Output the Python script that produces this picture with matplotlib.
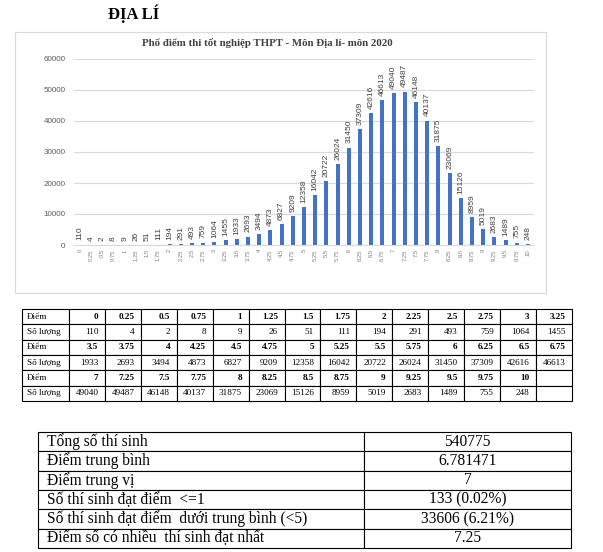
import matplotlib.pyplot as plt
from matplotlib.patches import Rectangle

# score distribution, geography 2020
scores = [0, 0.25, 0.5, 0.75, 1, 1.25, 1.5, 1.75, 2, 2.25, 2.5, 2.75, 3, 3.25,
          3.5, 3.75, 4, 4.25, 4.5, 4.75, 5, 5.25, 5.5, 5.75, 6, 6.25, 6.5, 6.75,
          7, 7.25, 7.5, 7.75, 8, 8.25, 8.5, 8.75, 9, 9.25, 9.5, 9.75, 10]
counts = [110, 4, 2, 8, 9, 26, 51, 111, 194, 291, 493, 759, 1064, 1455,
          1933, 2693, 3494, 4873, 6827, 9209, 12358, 16042, 20722, 26024, 31450, 37309, 42616, 46613,
          49040, 49487, 46148, 40137, 31875, 23069, 15126, 8959, 5019, 2683, 1489, 755, 248]

stat_labels = ['Tổng số thí sinh', 'Điểm trung bình', 'Điểm trung vị',
               'Số thí sinh đạt điểm  <=1', 'Số thí sinh đạt điểm  dưới trung bình (<5)',
               'Điểm số có nhiều  thí sinh đạt nhất']
stat_values = ['540775', '6.781471', '7', '133 (0.02%)', '33606 (6.21%)', '7.25']

page_title = 'ĐỊA LÍ'
chart_title = 'Phổ điểm thi tốt nghiệp THPT - Môn Địa lí- môn 2020'

W, H = 603, 552
SERIF = 'Liberation Serif'
SANS = 'Liberation Sans'


def main():
    fig = plt.figure(figsize=(W / 100, H / 100), dpi=100)

    # overlay in pixel coords for the page layout
    ov = fig.add_axes([0, 0, 1, 1], zorder=0)
    ov.set_xlim(0, W)
    ov.set_ylim(H, 0)
    ov.axis('off')

    ov.text(134, 14, page_title, ha='center', va='center', fontsize=12,
            fontweight='bold', family=SERIF)
    ov.add_patch(Rectangle((15, 32), 531, 261, fill=False, ec='#d9d9d9', lw=0.8))
    ov.text(267, 43, chart_title, ha='center', va='center', fontsize=7.8,
            fontweight='bold', family=SERIF, color='#404040')

    # bar chart
    ax = fig.add_axes([74.4 / W, 1 - 245 / H, 459.2 / W, 186 / H], zorder=1)
    ax.patch.set_alpha(0)
    bars = ax.bar(scores, counts, width=0.09, color='#4472C4')
    ax.set_xlim(-0.125, 10.125)
    ax.set_ylim(0, 60000)
    ax.set_yticks(range(0, 60001, 10000))
    ax.grid(axis='y', color='#d9d9d9', lw=0.8)
    ax.set_axisbelow(True)
    ax.set_xticks(scores)
    ax.set_xticklabels(['{:g}'.format(s) for s in scores], rotation=90,
                       fontsize=4.2, color='#7f7f7f', family=SANS)
    for lab in ax.get_yticklabels():
        lab.set_fontsize(5.8)
        lab.set_color('#595959')
        lab.set_family(SANS)
    ax.tick_params(axis='both', length=0)
    ax.tick_params(axis='y', pad=6.5)
    ax.tick_params(axis='x', pad=3)
    for s in ['top', 'right', 'left']:
        ax.spines[s].set_visible(False)
    ax.spines['bottom'].set_color('#d9d9d9')
    ax.bar_label(bars, rotation=90, padding=3, fontsize=6, color='#404040',
                 family=SANS)

    # score / count table
    rows = []
    for i in range(0, len(scores), 14):
        sc = ['{:g}'.format(s) for s in scores[i:i + 14]]
        ct = [str(c) for c in counts[i:i + 14]]
        sc += [''] * (14 - len(sc))
        ct += [''] * (14 - len(ct))
        rows.append(['Điểm'] + sc)
        rows.append(['Số lượng'] + ct)
    t1 = ov.table(cellText=rows, colWidths=[47] + [36] * 14, cellLoc='right',
                  bbox=[22 / W, 1 - 401 / H, 550 / W, 92 / H])
    t1.auto_set_font_size(False)
    t1.set_fontsize(6.6)
    for (r, c), cell in t1.get_celld().items():
        cell.set_linewidth(0.8)
        cell.get_text().set_family(SERIF)
        if c == 0:
            cell.set_text_props(ha='left')
            cell.PAD = 0.1
        else:
            cell.PAD = 0.18
            if r % 2 == 0:
                cell.get_text().set_fontweight('bold')

    # summary table
    t2 = ov.table(cellText=[[a, b] for a, b in zip(stat_labels, stat_values)],
                  colWidths=[326, 207], cellLoc='center',
                  bbox=[38 / W, 1 - 548 / H, 533 / W, 116 / H])
    t2.auto_set_font_size(False)
    t2.set_fontsize(11.2)
    for (r, c), cell in t2.get_celld().items():
        cell.set_linewidth(0.8)
        cell.get_text().set_family(SERIF)
        if c == 0:
            cell.set_text_props(ha='left')
            cell.PAD = 0.027

    fig.savefig('out.png', dpi=100)


if __name__ == "__main__":
    main()
